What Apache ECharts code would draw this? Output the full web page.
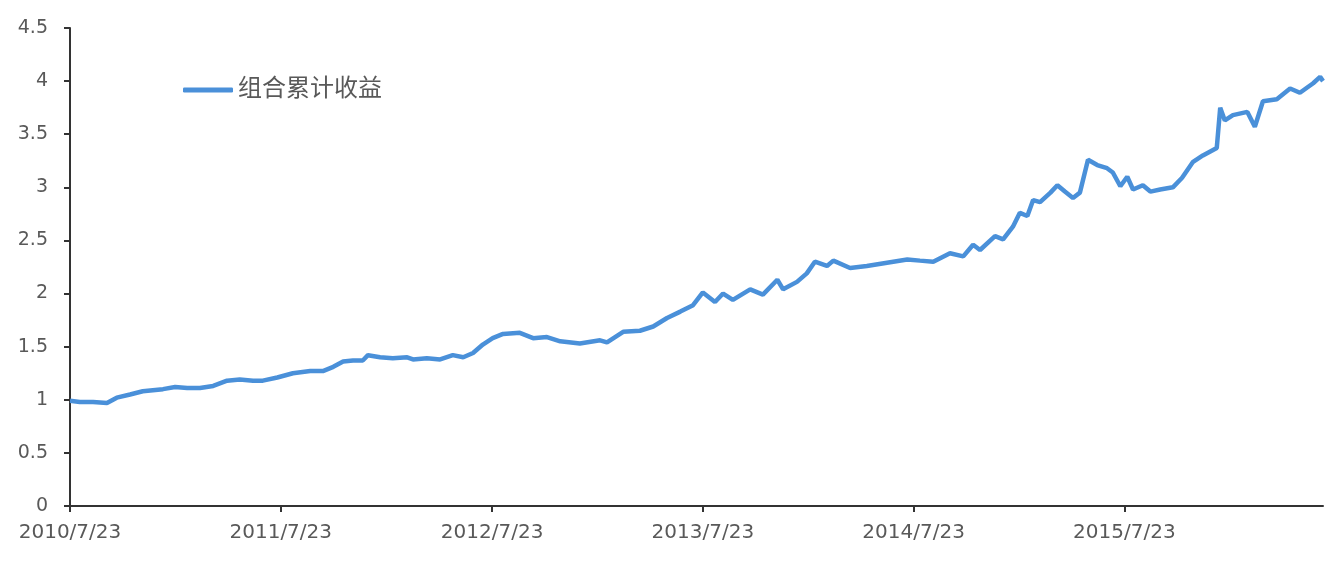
<!DOCTYPE html>
<html>
<head>
<meta charset="utf-8">
<script src="https://cdn.jsdelivr.net/npm/echarts@6/dist/echarts.min.js"></script>
<style>html,body{margin:0;padding:0;background:#fff}#c{width:1329px;height:567px}</style>
</head>
<body>
<div id="c"></div>
<script>
const seriesName = '组合累计收益';
const dates = [
'2010-07-23','2010-08-09','2010-09-01','2010-09-25','2010-10-12','2010-11-04','2010-11-26','2010-12-31',
'2011-01-21','2011-02-11','2011-03-05','2011-03-28','2011-04-21','2011-05-13','2011-06-05','2011-06-22',
'2011-07-17','2011-08-13','2011-09-12','2011-10-04','2011-10-22','2011-11-08','2011-11-25','2011-12-12',
'2011-12-21','2012-01-11','2012-02-02','2012-02-27','2012-03-08','2012-04-01','2012-04-24','2012-05-16',
'2012-06-03','2012-06-20','2012-07-07','2012-07-24','2012-08-11','2012-09-09','2012-10-02','2012-10-26',
'2012-11-18','2012-12-22','2013-01-26','2013-02-07','2013-03-07','2013-04-05','2013-04-28','2013-05-22',
'2013-06-14','2013-07-06','2013-07-23','2013-08-13','2013-08-27','2013-09-13','2013-10-13','2013-11-04',
'2013-11-29','2013-12-09','2014-01-02','2014-01-19','2014-02-02','2014-02-23','2014-03-06','2014-04-04',
'2014-05-03','2014-06-07','2014-07-12','2014-08-03','2014-08-26','2014-09-24','2014-10-17','2014-11-03',
'2014-11-15','2014-12-11','2014-12-25','2015-01-11','2015-01-23','2015-02-05','2015-02-15','2015-02-27',
'2015-03-17','2015-03-29','2015-04-11','2015-04-25','2015-05-07','2015-05-21','2015-06-06','2015-06-23',
'2015-07-03','2015-07-16','2015-07-28','2015-08-07','2015-08-24','2015-09-06','2015-09-23','2015-10-15',
'2015-10-31','2015-11-19','2015-12-06','2015-12-30','2016-01-05','2016-01-13','2016-01-27','2016-02-21',
'2016-03-05','2016-03-19','2016-04-12','2016-05-05','2016-05-22','2016-06-14','2016-06-26','2016-07-01'
];
const values = [
0.99,0.98,0.98,0.97,1.02,1.05,1.08,1.10,
1.12,1.11,1.11,1.13,1.18,1.19,1.18,1.18,
1.21,1.25,1.27,1.27,1.31,1.36,1.37,1.37,
1.42,1.40,1.39,1.40,1.38,1.39,1.38,1.42,
1.40,1.44,1.52,1.58,1.62,1.63,1.58,1.59,
1.55,1.53,1.56,1.54,1.64,1.65,1.69,1.77,
1.83,1.89,2.01,1.92,2.00,1.94,2.04,1.99,
2.13,2.04,2.11,2.19,2.30,2.26,2.31,2.24,
2.26,2.29,2.32,2.31,2.30,2.38,2.35,2.46,
2.41,2.54,2.51,2.63,2.76,2.73,2.88,2.86,
2.95,3.02,2.96,2.90,2.95,3.26,3.21,3.18,
3.14,3.01,3.10,2.98,3.02,2.96,2.98,3.00,
3.09,3.24,3.30,3.37,3.75,3.63,3.68,3.71,
3.57,3.81,3.83,3.93,3.89,3.98,4.04,4.00
];
const xTickDates = ['2010-07-23','2011-07-23','2012-07-23','2013-07-23','2014-07-23','2015-07-23'];
const xStart = '2010-07-23';
const xEnd = '2016-07-01';
const yMin = 0, yMax = 4.5, yStep = 0.5;

function ts(s){ const p = s.split('-').map(Number); return Date.UTC(p[0], p[1]-1, p[2]); }
function fmt(v){ const d = new Date(v); return d.getUTCFullYear() + '/' + (d.getUTCMonth()+1) + '/' + d.getUTCDate(); }

const font = "'DejaVu Sans', 'Noto Sans CJK SC', sans-serif";
const chart = echarts.init(document.getElementById('c'), null, {renderer: 'canvas'});
chart.setOption({
  animation: false,
  backgroundColor: '#fff',
  grid: {left: 70, right: 6, top: 28, bottom: 61, containLabel: false},
  legend: {
    left: 178, top: 73,
    icon: 'roundRect', itemWidth: 50, itemHeight: 5, itemGap: 8,
    textStyle: {fontSize: 24, color: '#595959', fontFamily: font},
    data: [seriesName]
  },
  xAxis: {
    type: 'value',
    min: ts(xStart), max: ts(xEnd),
    splitLine: {show: false},
    axisLine: {show: true, lineStyle: {color: '#333', width: 2}},
    axisTick: {show: true, length: 6, lineStyle: {color: '#333', width: 2}, customValues: xTickDates.map(ts)},
    axisLabel: {
      customValues: xTickDates.map(ts),
      formatter: v => fmt(v),
      color: '#595959', fontSize: 20, fontFamily: font, margin: 17
    }
  },
  yAxis: {
    type: 'value',
    min: yMin, max: yMax, interval: yStep,
    splitLine: {show: false},
    axisLine: {show: true, lineStyle: {color: '#333', width: 2}},
    axisTick: {show: true, length: 6, lineStyle: {color: '#333', width: 2}},
    axisLabel: {color: '#595959', fontSize: 19, fontFamily: font, margin: 22}
  },
  series: [{
    name: seriesName,
    type: 'line',
    showSymbol: false,
    symbol: 'none',
    lineStyle: {color: '#4a90d9', width: 4.5},
    itemStyle: {color: '#4a90d9'},
    data: dates.map((d, i) => [ts(d), values[i]])
  }]
});
</script>
</body>
</html>
